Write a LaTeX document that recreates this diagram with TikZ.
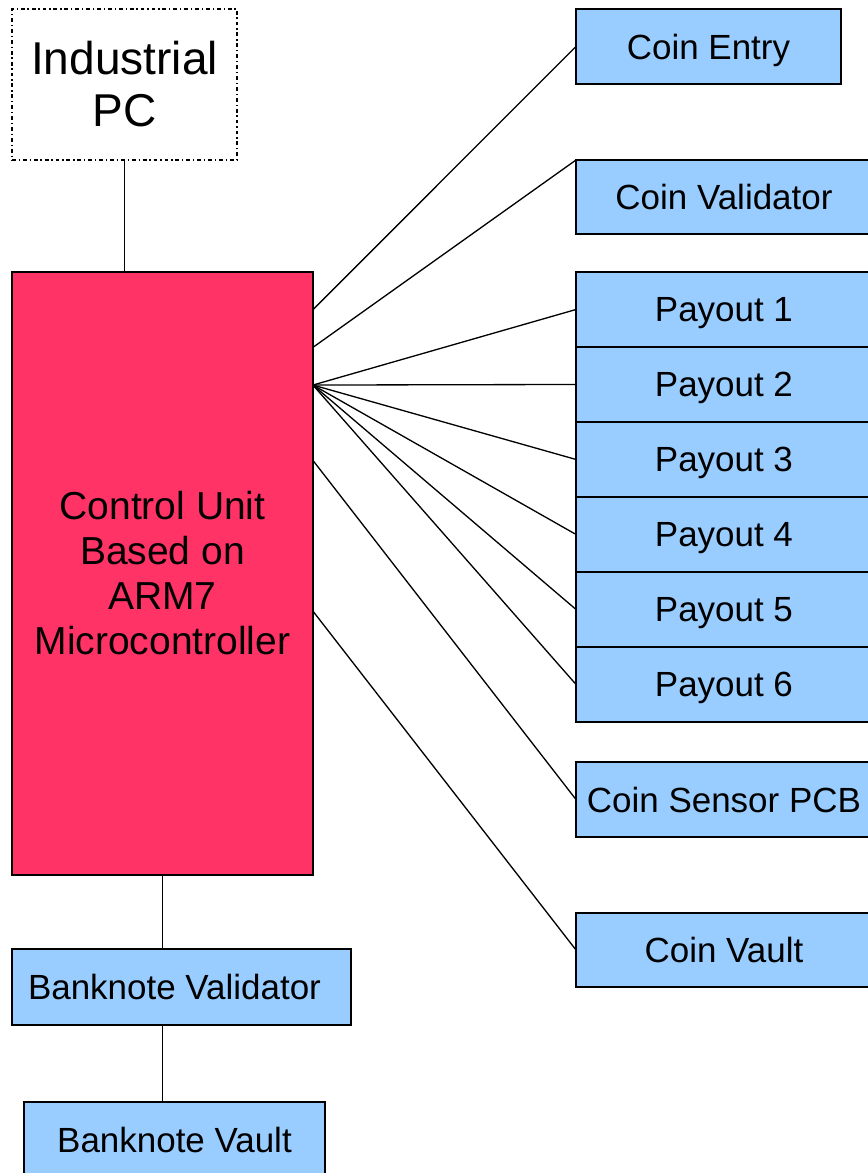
\documentclass[tikz,border=0pt]{standalone}
\usepackage{fontspec}
\setmainfont{Liberation Sans}
\usepackage{xcolor}
\usetikzlibrary{positioning,calc}
\definecolor{unitblue}{HTML}{99CCFF}
\definecolor{corered}{HTML}{FF3366}

\begin{document}
\begin{tikzpicture}[
  x=0.02cm, y=-0.02cm,
  unit/.style={draw, fill=unitblue, line width=0.9pt, outer sep=0pt, inner sep=0pt, text depth=0pt, minimum width=5.92cm, minimum height=1.5cm, font=\fontsize{19.9}{24}\selectfont},
  core/.style={draw, fill=corered, line width=0.9pt, outer sep=0pt, align=center, minimum width=6.02cm, minimum height=12.06cm, font=\fontsize{22.2}{25.6}\selectfont},
  host/.style={draw, dash pattern=on 2.2pt off 1.6pt on 0.8pt off 1.6pt, line width=0.7pt, outer sep=0pt, align=center, minimum width=4.5cm, minimum height=3.02cm, font=\fontsize{26.2}{29.6}\selectfont},
  wire/.style={line width=0.75pt}
]
\useasboundingbox (0,0) rectangle (867,1173);
\node[host, anchor=north west] (pc) at (12,9) {Industrial\\PC};
\node[core, anchor=north west] (cu) at (12,272) {Control Unit\\Based on\\ARM7\\Microcontroller};
\node[unit, anchor=north west, minimum width=6.78cm, minimum height=1.52cm] (bval) at (12,949) {Banknote Validator\hspace*{0.28cm}};
\node[unit, anchor=north west, minimum width=6.02cm] (bvault) at (24,1102) {Banknote Vault};
\node[unit, anchor=north west, minimum width=5.3cm] (entry) at (576,9) {Coin Entry};
\node[unit, anchor=north west, minimum height=1.48cm] (cval) at (576,160) {Coin Validator};
\node[unit, anchor=north west] (p1) at (576,272) {Payout 1};
\foreach \i [count=\j from 1] in {2,...,6}
  \node[unit, below=0pt of p\j] (p\i) {Payout \i};
\node[unit, anchor=north west] (sensor) at (576,762) {Coin Sensor PCB};
\node[unit, anchor=north west, minimum height=1.48cm] (cvault) at (576,913) {Coin Vault};

\draw[wire] (pc.south) -- (pc.south |- cu.north);
\draw[wire] (cu.south) -- (cu.south |- bval.north);
\draw[wire] (cu.south |- bval.south) -- (cu.south |- bvault.north);
\draw[wire] ($(cu.north east)!1/16!(cu.south east)$) -- (entry.west);
\draw[wire] ($(cu.north east)!2/16!(cu.south east)$) -- (cval.north west);
\foreach \i in {1,...,6}
  \draw[wire] ($(cu.north east)!3/16!(cu.south east)$) -- (p\i.west);
\draw[wire] ($(cu.north east)!5/16!(cu.south east)$) -- (sensor.west);
\draw[wire] ($(cu.north east)!9/16!(cu.south east)$) -- (cvault.west);
\end{tikzpicture}
\end{document}
